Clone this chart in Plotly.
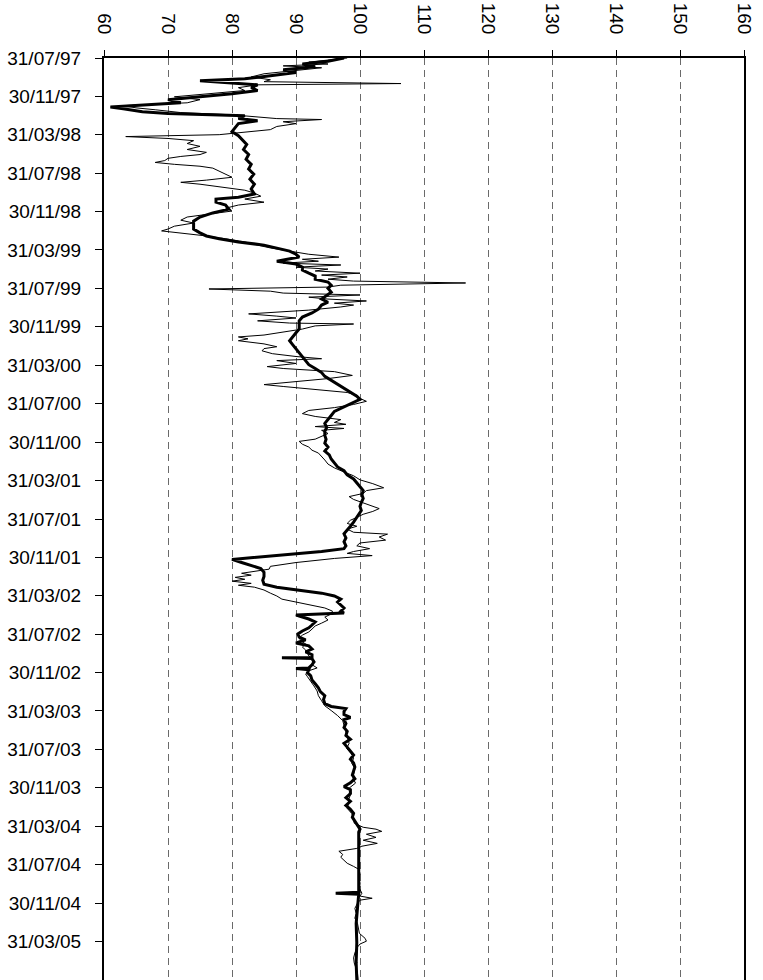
import plotly.graph_objects as go

# Index level series (thick line)
index_dates = [
    "1997-07-31", "1997-08-10", "1997-08-19", "1997-08-28", "1997-09-06", "1997-09-15",
    "1997-09-25", "1997-10-05", "1997-10-11", "1997-10-17", "1997-10-24", "1997-11-02",
    "1997-11-11", "1997-11-21", "1997-12-01", "1997-12-10", "1997-12-20", "1997-12-29",
    "1998-01-02", "1998-01-08", "1998-01-17", "1998-01-23", "1998-01-27", "1998-01-30",
    "1998-02-08", "1998-02-15", "1998-02-24", "1998-03-08", "1998-03-21", "1998-04-03",
    "1998-04-15", "1998-05-01", "1998-05-17", "1998-06-02", "1998-06-17", "1998-07-03",
    "1998-07-18", "1998-08-03", "1998-08-19", "1998-09-04", "1998-09-19", "1998-10-05",
    "1998-10-15", "1998-10-21", "1998-10-31", "1998-11-09", "1998-11-22", "1998-12-04",
    "1998-12-17", "1998-12-30", "1999-01-11", "1999-01-24", "1999-02-05", "1999-02-15",
    "1999-02-24", "1999-03-06", "1999-03-16", "1999-03-25", "1999-04-04", "1999-04-14",
    "1999-04-23", "1999-05-06", "1999-05-15", "1999-05-25", "1999-06-03", "1999-06-13",
    "1999-06-22", "1999-07-02", "1999-07-11", "1999-07-21", "1999-07-31", "1999-08-12",
    "1999-08-25", "1999-09-03", "1999-09-13", "1999-09-22", "1999-10-05", "1999-10-17",
    "1999-10-30", "1999-11-11", "1999-11-24", "1999-12-07", "1999-12-19", "2000-01-01",
    "2000-01-13", "2000-01-26", "2000-02-07", "2000-02-20", "2000-03-03", "2000-03-16",
    "2000-03-29", "2000-04-10", "2000-04-23", "2000-05-05", "2000-05-18", "2000-05-31",
    "2000-06-12", "2000-06-25", "2000-07-07", "2000-07-17", "2000-07-26", "2000-08-05",
    "2000-08-15", "2000-08-24", "2000-09-06", "2000-09-19", "2000-10-01", "2000-10-14",
    "2000-10-26", "2000-11-08", "2000-11-20", "2000-12-03", "2000-12-15", "2000-12-28",
    "2001-01-09", "2001-01-22", "2001-02-03", "2001-02-16", "2001-02-28", "2001-03-13",
    "2001-03-26", "2001-04-07", "2001-04-20", "2001-05-02", "2001-05-15", "2001-05-27",
    "2001-06-09", "2001-06-21", "2001-07-04", "2001-07-16", "2001-07-29", "2001-08-10",
    "2001-08-23", "2001-09-04", "2001-09-16", "2001-09-29", "2001-10-11", "2001-10-24",
    "2001-11-02", "2001-11-11", "2001-11-21", "2001-11-30", "2001-12-06", "2001-12-16",
    "2001-12-25", "2002-01-04", "2002-01-16", "2002-01-29", "2002-02-10", "2002-02-23",
    "2002-03-04", "2002-03-13", "2002-03-23", "2002-04-01", "2002-04-11", "2002-04-20",
    "2002-04-30", "2002-05-09", "2002-05-19", "2002-05-25", "2002-05-31", "2002-06-04",
    "2002-06-13", "2002-06-22", "2002-07-02", "2002-07-11", "2002-07-21", "2002-07-30",
    "2002-08-09", "2002-08-18", "2002-08-28", "2002-09-06", "2002-09-16", "2002-09-25",
    "2002-10-04", "2002-10-13", "2002-10-14", "2002-10-16", "2002-10-27", "2002-11-05",
    "2002-11-15", "2002-11-17", "2002-11-21", "2002-11-30", "2002-12-10", "2002-12-23",
    "2003-01-04", "2003-01-17", "2003-01-29", "2003-02-11", "2003-02-23", "2003-03-08",
    "2003-03-17", "2003-03-24", "2003-04-02", "2003-04-12", "2003-04-21", "2003-04-28",
    "2003-05-10", "2003-05-23", "2003-06-04", "2003-06-17", "2003-06-29", "2003-07-12",
    "2003-07-24", "2003-08-06", "2003-08-18", "2003-08-31", "2003-09-12", "2003-09-25",
    "2003-10-07", "2003-10-20", "2003-11-01", "2003-11-14", "2003-11-26", "2003-12-06",
    "2003-12-18", "2003-12-31", "2004-01-12", "2004-01-25", "2004-02-06", "2004-02-19",
    "2004-03-02", "2004-03-15", "2004-03-27", "2004-04-09", "2004-04-18", "2004-10-26",
    "2004-10-29", "2004-11-01", "2004-12-17", "2005-02-02", "2005-04-04", "2005-06-06",
    "2005-07-31",
]
index_values = [
    97.5, 95, 91, 93, 88, 90,
    86, 82, 75, 79, 84, 83,
    84, 80, 75, 70, 72, 64,
    61, 63, 66, 70, 78, 82,
    81, 84, 81, 80.5, 80, 81,
    81.5, 82.3, 81.8, 82.6, 82.2, 83,
    82.6, 83.4, 82.8, 83.5, 83, 83.5,
    81, 77.5, 77.5, 79, 79.5, 77,
    75, 74, 74, 74, 75, 76,
    78, 81, 85, 87, 89, 90,
    90.5, 87, 90, 91, 91, 92,
    93, 93, 95, 95.5, 95, 95.5,
    94.5, 94, 95, 94, 93.5, 92.5,
    91, 90.5, 90.5, 90.5, 90, 89.5,
    89, 89.5, 90, 90.5, 91, 91.5,
    92, 93, 94, 94.5, 95.5, 96.5,
    97.5, 98.5, 99.5, 100, 99, 98,
    97, 96, 95.5, 95, 94.5, 94.8,
    94.5, 94.5, 94.7, 94.5, 95, 94.5,
    95.2, 95.5, 96, 96.5, 97.5, 98,
    99, 99.5, 100, 100.5, 100.3, 100.5,
    100.2, 100, 100.2, 99.8, 99.5, 99,
    98.5, 98, 97.5, 97.8, 97.5, 97.8,
    97.5, 94, 88, 84, 80, 81.5,
    83, 84.5, 85, 85, 84.8, 85,
    87, 90.5, 94, 96, 97, 96.5,
    97, 97.5, 97, 97.5, 90, 90.5,
    92, 93, 92.5, 92, 91, 90.3,
    90.5, 91.5, 90, 92, 92.5, 91.5,
    92.5, 92.5, 87.8, 92.5, 92.8, 92.5,
    92, 90, 92, 91.8, 92.3, 92.5,
    93, 93.5, 93.8, 94.5, 94.3, 94.5,
    95.5, 97.8, 97.5, 97.5, 98.5, 97.5,
    97.8, 97.5, 98, 97.8, 98.5, 97.5,
    98, 98.5, 99, 98.5, 99, 99.2,
    99, 98.8, 99.2, 98.5, 97.5, 98.5,
    98.5, 97.8, 98.5, 97.8, 98.5, 99,
    98.8, 99.2, 99.6, 100, 99.8, 99.8,
    96.2, 99.8, 99.6, 99.4, 99.5, 99.4,
    99.5,
]

# Comparison series (thin line)
comp_dates = [
    "1997-07-31", "1997-08-13", "1997-08-19", "1997-08-25", "1997-08-31", "1997-09-10",
    "1997-09-19", "1997-09-29", "1997-10-08", "1997-10-14", "1997-10-20", "1997-10-24",
    "1997-11-02", "1997-11-11", "1997-11-21", "1997-12-01", "1997-12-10", "1997-12-20",
    "1997-12-29", "1998-01-05", "1998-01-11", "1998-01-20", "1998-01-27", "1998-02-02",
    "1998-02-08", "1998-02-11", "1998-02-18", "1998-02-24", "1998-03-05", "1998-03-15",
    "1998-03-24", "1998-03-31", "1998-04-06", "1998-04-12", "1998-04-19", "1998-04-28",
    "1998-05-07", "1998-05-17", "1998-05-26", "1998-06-02", "1998-06-08", "1998-06-14",
    "1998-06-21", "1998-06-27", "1998-07-03", "1998-07-09", "1998-07-15", "1998-07-25",
    "1998-08-03", "1998-08-13", "1998-08-22", "1998-08-29", "1998-09-04", "1998-09-13",
    "1998-09-23", "1998-10-02", "1998-10-12", "1998-10-21", "1998-10-31", "1998-11-09",
    "1998-11-19", "1998-11-28", "1998-12-08", "1998-12-17", "1998-12-27", "1999-01-05",
    "1999-01-15", "1999-01-24", "1999-01-30", "1999-02-05", "1999-02-15", "1999-02-24",
    "1999-03-06", "1999-03-16", "1999-03-25", "1999-04-04", "1999-04-14", "1999-04-23",
    "1999-04-30", "1999-05-06", "1999-05-12", "1999-05-18", "1999-05-25", "1999-05-31",
    "1999-06-06", "1999-06-13", "1999-06-19", "1999-06-25", "1999-07-02", "1999-07-08",
    "1999-07-14", "1999-07-21", "1999-07-27", "1999-08-02", "1999-08-09", "1999-08-15",
    "1999-08-21", "1999-08-28", "1999-09-03", "1999-09-09", "1999-09-16", "1999-09-22",
    "1999-09-28", "1999-10-08", "1999-10-14", "1999-10-20", "1999-10-27", "1999-11-02",
    "1999-11-11", "1999-11-18", "1999-11-21", "1999-11-27", "1999-12-07", "1999-12-16",
    "1999-12-26", "2000-01-01", "2000-01-07", "2000-01-13", "2000-01-23", "2000-02-01",
    "2000-02-07", "2000-02-14", "2000-02-23", "2000-03-03", "2000-03-10", "2000-03-16",
    "2000-03-25", "2000-04-04", "2000-04-10", "2000-04-20", "2000-05-02", "2000-05-12",
    "2000-05-21", "2000-05-31", "2000-06-06", "2000-06-16", "2000-06-25", "2000-07-04",
    "2000-07-14", "2000-07-23", "2000-08-02", "2000-08-12", "2000-08-21", "2000-08-31",
    "2000-09-09", "2000-09-19", "2000-09-28", "2000-10-04", "2000-10-11", "2000-10-17",
    "2000-10-23", "2000-11-02", "2000-11-11", "2000-11-20", "2000-11-27", "2000-12-06",
    "2000-12-15", "2000-12-25", "2001-01-03", "2001-01-13", "2001-01-25", "2001-02-07",
    "2001-02-19", "2001-03-04", "2001-03-16", "2001-03-29", "2001-04-10", "2001-04-23",
    "2001-05-02", "2001-05-11", "2001-05-21", "2001-05-30", "2001-06-09", "2001-06-18",
    "2001-06-28", "2001-07-07", "2001-07-16", "2001-07-26", "2001-08-04", "2001-08-14",
    "2001-08-23", "2001-09-01", "2001-09-11", "2001-09-17", "2001-09-26", "2001-10-06",
    "2001-10-15", "2001-10-24", "2001-11-02", "2001-11-11", "2001-11-17", "2001-11-24",
    "2001-12-03", "2001-12-16", "2001-12-28", "2002-01-06", "2002-01-13", "2002-01-19",
    "2002-01-25", "2002-02-01", "2002-02-07", "2002-02-13", "2002-02-20", "2002-02-26",
    "2002-03-04", "2002-03-13", "2002-03-23", "2002-04-01", "2002-04-11", "2002-04-20",
    "2002-04-30", "2002-05-09", "2002-05-19", "2002-05-28", "2002-06-07", "2002-06-16",
    "2002-06-26", "2002-07-05", "2002-07-15", "2002-07-24", "2002-08-03", "2002-08-12",
    "2002-08-22", "2002-08-31", "2002-09-10", "2002-09-19", "2002-09-29", "2002-10-08",
    "2002-10-17", "2002-10-27", "2002-11-05", "2002-11-15", "2002-11-24", "2002-12-04",
    "2002-12-13", "2002-12-26", "2003-01-11", "2003-01-27", "2003-02-11", "2003-02-27",
    "2003-03-15", "2003-03-30", "2003-04-15", "2003-05-01", "2003-05-17", "2003-06-02",
    "2003-06-26", "2003-07-12", "2003-07-28", "2003-08-13", "2003-08-28", "2003-09-13",
    "2003-09-29", "2003-10-15", "2003-10-31", "2003-11-15", "2003-12-01", "2003-12-17",
    "2004-01-02", "2004-01-18", "2004-02-03", "2004-02-19", "2004-03-05", "2004-03-21",
    "2004-04-03", "2004-04-09", "2004-04-16", "2004-04-25", "2004-05-05", "2004-05-14",
    "2004-05-24", "2004-06-02", "2004-06-09", "2004-06-18", "2004-06-28", "2004-07-07",
    "2004-07-17", "2004-07-26", "2004-08-05", "2004-08-14", "2004-08-27", "2004-09-12",
    "2004-09-27", "2004-10-13", "2004-10-29", "2004-11-07", "2004-11-14", "2004-11-20",
    "2004-11-30", "2004-12-16", "2005-01-01", "2005-01-16", "2005-02-01", "2005-02-17",
    "2005-03-05", "2005-03-21", "2005-03-30", "2005-04-08", "2005-04-20", "2005-05-06",
    "2005-05-22", "2005-06-07", "2005-06-23", "2005-07-08", "2005-07-31",
]
comp_values = [
    98, 92, 95, 88, 94, 89,
    85, 83, 86, 85, 106.4, 84,
    81, 82, 76, 71, 75, 73,
    63, 65, 68, 72, 80, 84,
    87, 94, 88, 90, 87, 86,
    82, 78, 63.4, 70, 74, 73,
    75, 73, 76, 75, 72, 70,
    69.5, 68, 71, 75, 77, 78,
    79, 80, 76, 72, 75, 78,
    82, 83.5, 84.5, 82, 85, 81,
    79, 80, 76, 73, 72, 74,
    71, 70, 69, 72, 76, 79,
    82, 84, 86, 89, 92, 96.7,
    91, 93.5, 88, 97, 90, 95,
    93, 100, 94, 98, 95, 99,
    116.5, 97, 95, 76.4, 86, 88,
    100, 92, 95, 101, 96, 99,
    97, 92, 88, 82.6, 87, 90,
    84, 89, 99, 93, 91, 88,
    85, 81, 82.5, 81, 85, 87,
    85, 84.7, 86.3, 90, 94, 87,
    90, 85.5, 88, 96, 98.8, 95,
    90, 85, 88, 93, 98, 99.5,
    100, 101, 99, 96, 92, 91,
    93, 97, 96, 97.8, 93, 97.5,
    94, 95, 94, 93, 90.5, 91,
    92, 92.5, 93.5, 94, 94.5, 95,
    96, 97.5, 99, 100, 102, 103.7,
    101, 100.5, 98.3, 99, 100.5, 101.5,
    103, 102, 100.5, 99.5, 98.5, 98,
    99.5, 98, 99, 104.3, 103, 104,
    100, 99.5, 101.5, 99, 98, 101.9,
    96, 90, 86, 85.8, 83, 81.5,
    83, 80.5, 82, 80, 83, 81,
    83.5, 85, 86, 87, 87.8, 90,
    92, 94.5, 95.7, 95.5, 94.5, 95,
    94, 93, 92.5, 92, 91, 90.5,
    90.8, 91.5, 91, 91.5, 91.8, 92,
    92.5, 93, 92.5, 93.3, 92, 91.5,
    91.8, 92.3, 92.8, 93.3, 93.5, 94,
    94.5, 95.5, 96.5, 97.3, 97.5, 97.8,
    98, 98.3, 97.9, 98.6, 99, 98.7,
    99.2, 99.1, 98.9, 99.3, 98.3, 98.6,
    98.3, 98.2, 98, 98.7, 99, 99.1,
    100.5, 102.5, 103.4, 101, 102.5, 100.5,
    102.7, 100.3, 99.5, 96.7, 97.3, 97.0,
    97.6, 98.0, 99, 99.8, 100, 99.8,
    100, 99.9, 100.3, 100, 101.9, 100,
    99.6, 99.2, 99.4, 99.2, 99.6, 99.7,
    99.9, 100.8, 101, 100, 99.5, 99.2,
    99, 99.1, 99.3, 99.6, 99.7,
]

date_ticks = [
    "1997-07-31", "1997-11-30", "1998-03-31", "1998-07-31", "1998-11-30", "1999-03-31",
    "1999-07-31", "1999-11-30", "2000-03-31", "2000-07-31", "2000-11-30", "2001-03-31",
    "2001-07-31", "2001-11-30", "2002-03-31", "2002-07-31", "2002-11-30", "2003-03-31",
    "2003-07-31", "2003-11-30", "2004-03-31", "2004-07-31", "2004-11-30", "2005-03-31",
]
value_ticks = [60, 70, 80, 90, 100, 110, 120, 130, 140, 150, 160]

fig = go.Figure()
fig.add_trace(go.Scatter(
    x=comp_values, y=comp_dates, mode="lines",
    line=dict(color="black", width=1), hoverinfo="skip",
))
fig.add_trace(go.Scatter(
    x=index_values, y=index_dates, mode="lines",
    line=dict(color="black", width=3), hoverinfo="skip",
))

fig.update_layout(
    width=763, height=980,
    margin=dict(l=104, r=19, t=58, b=0),
    paper_bgcolor="white", plot_bgcolor="white",
    showlegend=False,
    font=dict(family="Liberation Sans, Arial, sans-serif", size=19, color="black"),
)
fig.update_xaxes(
    side="top", range=[60, 160], tickvals=value_ticks, tickangle=90,
    ticks="outside", ticklen=6, tickcolor="black", tickwidth=1,
    ticklabelstandoff=9,
    showline=True, linecolor="black", linewidth=2,
    showgrid=True, gridcolor="#6a6a6a", gridwidth=1, griddash="7px,5px",
    zeroline=False,
)
fig.update_yaxes(
    type="date", range=["2005-07-31", "1997-07-31"],
    tickvals=date_ticks, tickformat="%d/%m/%y",
    ticks="outside", ticklen=7, tickcolor="black", tickwidth=1,
    ticklabelstandoff=10,
    showline=True, linecolor="black", linewidth=2, mirror=True,
    showgrid=False, zeroline=False,
)

fig.write_html("out.html")
